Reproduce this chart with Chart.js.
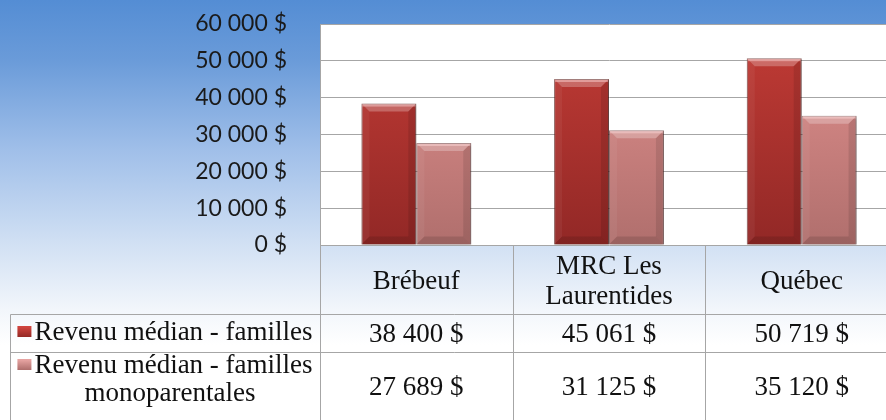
<!DOCTYPE html>
<html>
<head>
<meta charset="utf-8">
<script src="https://cdn.jsdelivr.net/npm/chart.js@4.4.0/dist/chart.umd.min.js"></script>
<style>
html, body { margin: 0; padding: 0; width: 886px; height: 420px; overflow: hidden; }
body {
    background: linear-gradient(to bottom, #548dd4 0px, #6a9bd9 60px, #a0bfe9 150px, #cfdff3 240px, #f2f6fb 310px, #ffffff 345px);
}
#wrap { position: absolute; left: 0; top: 0; width: 898px; height: 420px; }
</style>
</head>
<body>
<div id="wrap"><canvas id="chart" width="898" height="420"></canvas></div>
<script>
// data
const categories = [['Brébeuf'], ['MRC Les', 'Laurentides'], ['Québec']];
const seriesLabels = [['Revenu médian - familles'], ['Revenu médian - familles', 'monoparentales']];
const familles = [38400, 45061, 50719];
const monoparentales = [27689, 31125, 35120];
const yTicks = [0, 10000, 20000, 30000, 40000, 50000, 60000];

const GRID = '#a6a6a6';
const SERIF = '27px "Liberation Serif", "Times New Roman", serif';

function money(v) {
    return String(v).replace(/\B(?=(\d{3})+(?!\d))/g, ' ') + ' $';
}

function barFill(top, bottom) {
    return (ctx) => {
        const area = ctx.chart.chartArea;
        if (!area) return top;
        const g = ctx.chart.ctx.createLinearGradient(0, area.top, 0, area.bottom);
        g.addColorStop(0, top);
        g.addColorStop(1, bottom);
        return g;
    };
}

function poly(ctx, pts, fill) {
    ctx.beginPath();
    ctx.moveTo(pts[0], pts[1]);
    for (let i = 2; i < pts.length; i += 2) ctx.lineTo(pts[i], pts[i + 1]);
    ctx.closePath();
    ctx.fillStyle = fill;
    ctx.fill();
}

const swatches = [['#d0443e', '#8e2622'], ['#e6a3a1', '#a86866']];

// white plot area, bar shadow + bevel, and the data table under the chart
const excelLook = {
    id: 'excelLook',
    beforeDraw(chart) {
        const { ctx, chartArea: a } = chart;
        ctx.save();
        ctx.fillStyle = '#ffffff';
        ctx.fillRect(a.left, a.top, a.right - a.left, a.bottom - a.top);
        ctx.restore();
    },
    beforeDatasetsDraw(chart) {
        const ctx = chart.ctx;
        ctx.save();
        ctx.shadowColor = 'rgba(0,0,0,0.35)';
        ctx.shadowBlur = 4;
        ctx.shadowOffsetX = 1;
        ctx.shadowOffsetY = 1;
    },
    afterDatasetsDraw(chart) {
        const ctx = chart.ctx;
        ctx.restore();
        ctx.save();
        chart.getSortedVisibleDatasetMetas().forEach(meta => {
            meta.data.forEach(bar => {
                const { x, y, base, width } = bar.getProps(['x', 'y', 'base', 'width'], true);
                const l = x - width / 2, r = x + width / 2, b = 8;
                poly(ctx, [l, y, r, y, r - b, y + b, l + b, y + b], 'rgba(255,255,255,0.25)');
                poly(ctx, [l, y, l + b, y + b, l + b, base - b, l, base], 'rgba(255,255,255,0.05)');
                poly(ctx, [r, y, r, base, r - b, base - b, r - b, y + b], 'rgba(0,0,0,0.10)');
                poly(ctx, [l, base, r, base, r - b, base - b, l + b, base - b], 'rgba(0,0,0,0.12)');
                ctx.fillStyle = 'rgba(255,220,220,0.45)';
                ctx.fillRect(l + 1, y + 1, width - 2, 2);
            });
        });
        ctx.restore();
    },
    afterDraw(chart) {
        const { ctx, chartArea: a, scales: { x } } = chart;
        const n = categories.length;
        const colW = (a.right - a.left) / n;
        const top = a.bottom;
        const r1 = top + 69, r2 = r1 + 38, bottom = chart.height + 4;
        const legL = 10, legC = (legL + a.left) / 2;
        const px = v => Math.round(v) + 0.5;

        ctx.save();
        ctx.strokeStyle = GRID;
        ctx.lineWidth = 1;
        ctx.beginPath();
        // vertical lines
        ctx.moveTo(px(a.left), top); ctx.lineTo(px(a.left), bottom);
        for (let i = 1; i < n; i++) {
            const xx = px(x.getPixelForValue(i) - colW / 2);
            ctx.moveTo(xx, top); ctx.lineTo(xx, bottom);
        }
        ctx.moveTo(px(legL), px(r1)); ctx.lineTo(px(legL), bottom);
        // horizontal lines
        ctx.moveTo(px(legL), px(r1)); ctx.lineTo(a.right, px(r1));
        ctx.moveTo(px(legL), px(r2)); ctx.lineTo(a.right, px(r2));
        ctx.stroke();

        ctx.fillStyle = '#111';
        ctx.font = SERIF;
        ctx.textAlign = 'center';
        ctx.textBaseline = 'alphabetic';

        // header: category names
        categories.forEach((lines, i) => {
            const cx = x.getPixelForValue(i);
            if (lines.length === 1) {
                ctx.fillText(lines[0], cx, top + 44);
            } else {
                ctx.fillText(lines[0], cx, top + 29);
                ctx.fillText(lines[1], cx, top + 59);
            }
        });

        // values
        const rows = [familles, monoparentales];
        const rowBase = [r1 + 28, r2 + 43];
        rows.forEach((vals, ri) => {
            vals.forEach((v, i) => ctx.fillText(money(v), x.getPixelForValue(i), rowBase[ri]));
        });

        // legend keys
        const legBase = [[r1 + 26], [r2 + 21, r2 + 49]];
        seriesLabels.forEach((lines, si) => {
            const w = ctx.measureText(lines[0]).width;
            const sqW = 14, sqH = 11, gap = 3;
            const startX = legC - (sqW + gap + w) / 2;
            const by = legBase[si][0];
            const g = ctx.createLinearGradient(0, by - 13, 0, by - 13 + sqH);
            g.addColorStop(0, swatches[si][0]);
            g.addColorStop(1, swatches[si][1]);
            ctx.fillStyle = g;
            ctx.fillRect(startX, by - 14, sqW, sqH);
            ctx.fillStyle = '#111';
            ctx.textAlign = 'left';
            ctx.fillText(lines[0], startX + sqW + gap, by);
            ctx.textAlign = 'center';
            for (let k = 1; k < lines.length; k++) ctx.fillText(lines[k], legC + 5, legBase[si][k]);
        });
        ctx.restore();
    }
};

new Chart(document.getElementById('chart'), {
    type: 'bar',
    data: {
        labels: categories.map(c => c.join(' ')),
        datasets: [
            {
                label: seriesLabels[0].join(' '),
                data: familles,
                backgroundColor: barFill('#c33c36', '#922826'),
                borderColor: 'rgba(100,25,22,0.7)',
                borderWidth: 1
            },
            {
                label: seriesLabels[1].join(' '),
                data: monoparentales,
                backgroundColor: barFill('#e3918f', '#b06f6d'),
                borderColor: 'rgba(120,60,58,0.7)',
                borderWidth: 1
            }
        ]
    },
    options: {
        responsive: false,
        animation: false,
        devicePixelRatio: 1,
        datasets: { bar: { categoryPercentage: 0.57, barPercentage: 1.0 } },
        layout: { padding: { top: 24, bottom: 175, left: 0, right: 0 } },
        plugins: { legend: { display: false }, tooltip: { enabled: false } },
        scales: {
            x: { display: false },
            y: {
                min: yTicks[0],
                max: yTicks[yTicks.length - 1],
                afterBuildTicks: s => { s.ticks = yTicks.map(v => ({ value: v })); },
                afterFit: s => { s.width = 320; s.paddingTop = 0; s.paddingBottom = 0; },
                grid: { color: GRID, lineWidth: 1, drawTicks: false },
                border: { display: true, color: GRID, width: 1 },
                ticks: {
                    padding: 33,
                    color: '#1a1a1a',
                    font: { family: 'Lato', size: 23 },
                    callback: v => money(v)
                }
            }
        }
    },
    plugins: [excelLook]
});
</script>
</body>
</html>
